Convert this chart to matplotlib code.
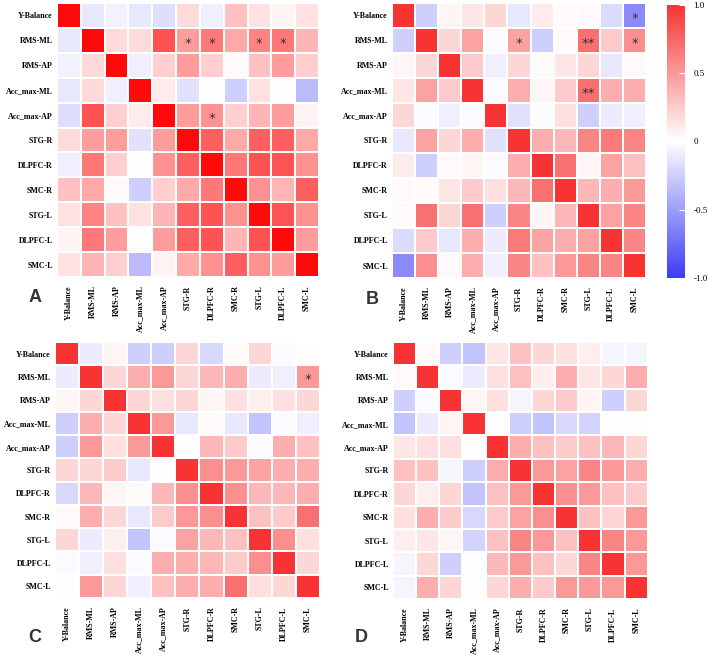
import numpy as np
import matplotlib
matplotlib.use("Agg")
import matplotlib.pyplot as plt
from matplotlib.colors import LinearSegmentedColormap

labels = ["Y-Balance", "RMS-ML", "RMS-AP", "Acc_max-ML", "Acc_max-AP", "STG-R",
          "DLPFC-R", "SMC-R", "STG-L", "DLPFC-L", "SMC-L"]

corr_a = [
    [1.00, -0.12, -0.07, -0.12, -0.17, 0.15, -0.08, 0.25, 0.12, 0.04, 0.12],
    [-0.12, 1.00, 0.15, 0.15, 0.70, 0.40, 0.55, 0.35, 0.50, 0.55, 0.30],
    [-0.07, 0.15, 1.00, -0.08, 0.20, 0.40, 0.20, 0.02, 0.25, 0.40, 0.20],
    [-0.12, 0.15, -0.08, 1.00, 0.08, -0.15, 0.00, -0.25, 0.12, 0.00, -0.35],
    [-0.17, 0.70, 0.20, 0.08, 1.00, 0.40, 0.45, 0.20, 0.30, 0.40, 0.05],
    [0.15, 0.40, 0.40, -0.15, 0.40, 1.00, 0.65, 0.35, 0.65, 0.65, 0.35],
    [-0.08, 0.55, 0.20, 0.00, 0.45, 0.65, 1.00, 0.55, 0.70, 0.70, 0.45],
    [0.25, 0.35, 0.02, -0.25, 0.20, 0.35, 0.55, 1.00, 0.45, 0.30, 0.65],
    [0.12, 0.50, 0.25, 0.12, 0.30, 0.65, 0.70, 0.45, 1.00, 0.70, 0.45],
    [0.04, 0.55, 0.40, 0.00, 0.40, 0.65, 0.70, 0.30, 0.70, 1.00, 0.40],
    [0.12, 0.30, 0.20, -0.35, 0.05, 0.35, 0.45, 0.65, 0.45, 0.40, 1.00],
]
stars_a = {(1, 5): "*", (1, 6): "*", (1, 8): "*", (1, 9): "*", (4, 6): "*"}

corr_b = [
    [1.00, -0.25, 0.05, 0.12, 0.20, -0.12, 0.10, 0.03, 0.03, -0.18, -0.60],
    [-0.25, 1.00, 0.20, 0.45, -0.03, 0.45, -0.25, 0.02, 0.70, 0.25, 0.55],
    [0.05, 0.20, 1.00, 0.25, -0.08, 0.20, 0.03, 0.12, 0.20, -0.12, 0.03],
    [0.12, 0.45, 0.25, 1.00, -0.02, 0.40, 0.05, 0.25, 0.70, 0.40, 0.40],
    [0.20, -0.03, -0.08, -0.02, 1.00, -0.15, -0.02, 0.15, -0.25, -0.10, -0.08],
    [-0.12, 0.45, 0.20, 0.40, -0.15, 1.00, 0.40, 0.35, 0.60, 0.65, 0.60],
    [0.10, -0.25, 0.03, 0.05, -0.02, 0.40, 1.00, 0.70, 0.05, 0.45, 0.30],
    [0.03, 0.02, 0.12, 0.25, 0.15, 0.35, 0.70, 1.00, 0.35, 0.40, 0.50],
    [0.03, 0.70, 0.20, 0.70, -0.25, 0.60, 0.05, 0.35, 1.00, 0.45, 0.60],
    [-0.18, 0.25, -0.12, 0.40, -0.10, 0.65, 0.45, 0.40, 0.45, 1.00, 0.60],
    [-0.60, 0.55, 0.03, 0.40, -0.08, 0.60, 0.30, 0.50, 0.60, 0.60, 1.00],
]
stars_b = {(0, 10): "*", (1, 5): "*", (1, 8): "**", (1, 10): "*", (3, 8): "**"}

corr_c = [
    [1.00, -0.10, 0.05, -0.25, -0.25, 0.20, -0.20, 0.03, 0.20, -0.03, 0.00],
    [-0.10, 1.00, 0.20, 0.40, 0.50, 0.20, 0.35, 0.40, -0.10, -0.08, 0.50],
    [0.05, 0.20, 1.00, 0.20, 0.15, 0.20, 0.05, 0.15, 0.08, 0.15, 0.20],
    [-0.25, 0.40, 0.20, 1.00, 0.50, -0.12, 0.02, -0.12, -0.30, -0.03, -0.08],
    [-0.25, 0.50, 0.15, 0.50, 1.00, 0.00, 0.35, 0.25, -0.03, 0.40, 0.30],
    [0.20, 0.20, 0.25, -0.12, 0.00, 1.00, 0.55, 0.50, 0.45, 0.40, 0.40],
    [-0.20, 0.35, 0.05, 0.02, 0.35, 0.55, 1.00, 0.55, 0.35, 0.35, 0.40],
    [0.03, 0.40, 0.20, -0.12, 0.25, 0.50, 0.55, 1.00, 0.30, 0.25, 0.70],
    [0.20, -0.10, 0.08, -0.30, -0.03, 0.45, 0.35, 0.30, 1.00, 0.55, 0.15],
    [-0.03, -0.08, 0.15, -0.03, 0.40, 0.40, 0.35, 0.25, 0.55, 1.00, 0.20],
    [0.00, 0.50, 0.20, -0.08, 0.30, 0.40, 0.40, 0.70, 0.15, 0.20, 1.00],
]
stars_c = {(1, 10): "*"}

corr_d = [
    [1.00, 0.03, -0.25, -0.30, 0.12, 0.30, 0.20, 0.15, 0.08, -0.05, -0.05],
    [0.03, 1.00, -0.03, -0.10, 0.15, 0.30, 0.08, 0.40, 0.12, 0.20, 0.40],
    [-0.25, -0.03, 1.00, 0.05, 0.15, -0.05, 0.20, 0.25, 0.05, -0.25, 0.20],
    [-0.30, -0.10, 0.05, 1.00, 0.00, -0.25, -0.30, -0.20, -0.22, 0.00, 0.00],
    [0.12, 0.15, 0.15, 0.00, 1.00, 0.40, 0.30, 0.25, 0.30, 0.35, 0.20],
    [0.30, 0.30, -0.05, -0.25, 0.40, 1.00, 0.50, 0.45, 0.60, 0.50, 0.40],
    [0.20, 0.08, 0.20, -0.30, 0.30, 0.50, 1.00, 0.55, 0.50, 0.30, 0.25],
    [0.15, 0.40, 0.25, -0.20, 0.25, 0.45, 0.55, 1.00, 0.30, 0.20, 0.50],
    [0.08, 0.12, 0.05, -0.22, 0.30, 0.60, 0.50, 0.30, 1.00, 0.60, 0.50],
    [-0.05, 0.20, -0.25, 0.00, 0.35, 0.50, 0.30, 0.20, 0.60, 1.00, 0.50],
    [-0.05, 0.40, 0.20, 0.00, 0.20, 0.40, 0.25, 0.50, 0.50, 0.50, 1.00],
]
stars_d = {}

cmap_a = LinearSegmentedColormap.from_list("rb_a", ["#3c3cf5", "#ffffff", "#ff0a0a"])
cmap = LinearSegmentedColormap.from_list("rb", ["#3c3cf5", "#ffffff", "#f73333"])

serif = "Liberation Serif"


def draw_panel(ax, data, stars, letter, cm, letter_xy):
    m = np.array(data)
    n = len(labels)
    im = ax.pcolormesh(m, cmap=cm, vmin=-1, vmax=1, edgecolors="white", linewidth=1.1)
    ax.set_xlim(0, n)
    ax.set_ylim(n, 0)
    ax.set_xticks(np.arange(n) + 0.5)
    ax.set_yticks(np.arange(n) + 0.5)
    ax.set_xticklabels(labels, rotation=90, fontsize=5.8, fontfamily=serif, fontweight="bold")
    ax.set_yticklabels(labels, fontsize=5.8, fontfamily=serif, fontweight="bold")
    ax.tick_params(axis="x", length=0, pad=6)
    ax.tick_params(axis="y", length=0, pad=3)
    for s in ax.spines.values():
        s.set_visible(False)
    for (r, c), txt in stars.items():
        ax.text(c + 0.5, r + 0.62, txt, ha="center", va="center", fontsize=9.5,
                color="#333333", fontfamily="DejaVu Sans")
    ax.figure.text(letter_xy[0], letter_xy[1], letter, fontsize=13,
                   fontfamily="Liberation Sans", fontweight="bold", color="#333333",
                   ha="center", va="center")
    return im


fig = plt.figure(figsize=(7.08, 6.58), dpi=100)
ax_a = fig.add_axes([0.0805, 0.579, 0.370, 0.4164])
ax_b = fig.add_axes([0.5537, 0.5775, 0.3588, 0.418])
ax_c = fig.add_axes([0.0777, 0.0912, 0.374, 0.389])
ax_d = fig.add_axes([0.555, 0.0897, 0.360, 0.3906])
cax = fig.add_axes([0.942, 0.5775, 0.026, 0.415])

draw_panel(ax_a, corr_a, stars_a, "A", cmap_a, (35 / 708, 1 - 298 / 658))
im = draw_panel(ax_b, corr_b, stars_b, "B", cmap, (372 / 708, 1 - 300 / 658))
draw_panel(ax_c, corr_c, stars_c, "C", cmap, (35 / 708, 1 - 638 / 658))
draw_panel(ax_d, corr_d, stars_d, "D", cmap, (361 / 708, 1 - 637 / 658))

cb = fig.colorbar(im, cax=cax, ticks=[-1, -0.5, 0, 0.5, 1])
cb.ax.set_yticklabels(["-1.0", "-0.5", "0", "0.5", "1.0"], fontsize=6.5, fontfamily=serif)
cb.ax.tick_params(direction="in", color="white", length=4, pad=6)
cb.outline.set_visible(False)

fig.savefig("out.png", dpi=100)
